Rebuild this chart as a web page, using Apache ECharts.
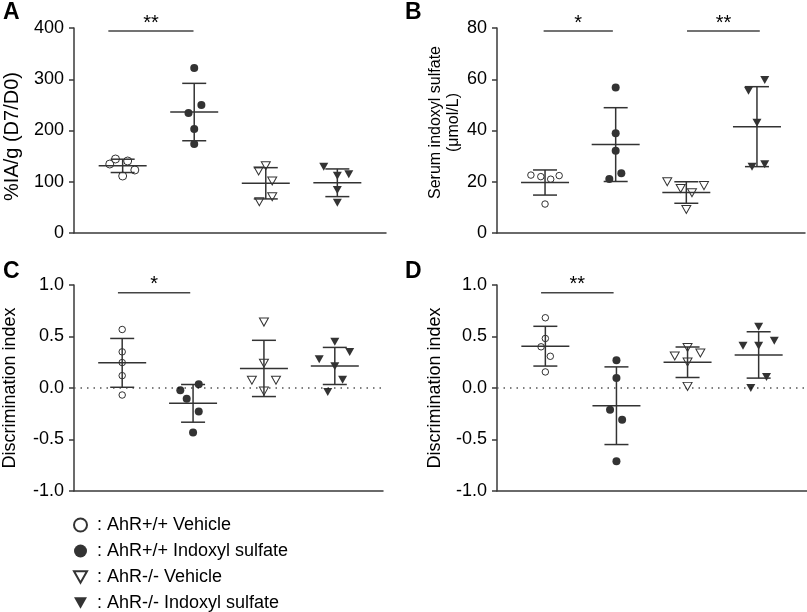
<!DOCTYPE html>
<html>
<head>
<meta charset="utf-8">
<script src="https://cdn.jsdelivr.net/npm/echarts@6/dist/echarts.min.js"></script>
<style>html,body{margin:0;padding:0;background:#fff}#c{width:807px;height:612px}</style>
</head>
<body>
<div id="c"></div>
<script>
// ---------- DATA ----------
const groupNames = ['AhR+/+ Vehicle', 'AhR+/+ Indoxyl sulfate', 'AhR-/- Vehicle', 'AhR-/- Indoxyl sulfate'];

// Panel A: %IA/g (D7/D0)
const iaWtVehicle = [134.6, 144.4, 140.5, 111.2, 122.9];
const iaWtIS      = [322, 249.8, 234, 203, 173.7];
const iaKoVehicle = [121, 131.4, 101.5, 61, 70.9];
const iaKoIS      = [129.4, 111.8, 114.5, 83.9, 59.1];
const iaMean = [131, 236, 97, 98];
const iaSD   = [13, 56, 30.5, 27];
const iaTicks = [0, 100, 200, 300, 400];

// Panel B: Serum indoxyl sulfate (umol/L)
const isWtVehicle = [22.6, 22, 21, 22.4, 11.3];
const isWtIS      = [56.8, 38.9, 32.1, 21.1, 23.3];
const isKoVehicle = [20, 17.4, 15.7, 18.5, 9.2];
const isKoIS      = [59.7, 55.5, 43, 25.9, 26.8];
const isMean = [19.7, 34.5, 15.8, 41.5];
const isSD   = [4.9, 14.4, 4.2, 15.6];
const isTicks = [0, 20, 40, 60, 80];

// Panel C: Discrimination index
const cWtVehicle = [0.568, 0.351, 0.247, 0.12, -0.068];
const cWtIS      = [0.036, -0.023, -0.104, -0.227, -0.432];
const cKoVehicle = [0.64, 0.24, 0.075, 0.075, -0.03];
const cKoIS      = [0.45, 0.35, 0.28, 0.21, 0.08, -0.04];
const cMean = [0.244, -0.149, 0.19, 0.214];
const cSD   = [0.237, 0.183, 0.273, 0.18];

// Panel D: Discrimination index
const dWtVehicle = [0.682, 0.481, 0.4, 0.308, 0.156];
const dWtIS      = [0.27, 0.097, -0.211, -0.308, -0.711];
const dKoVehicle = [0.393, 0.31, 0.34, 0.253, 0.016];
const dKoIS      = [0.594, 0.41, 0.41, 0.458, 0.107, 0.0];
const dMean = [0.406, -0.172, 0.25, 0.321];
const dSD   = [0.193, 0.377, 0.148, 0.225];
const diTicks = [-1.0, -0.5, 0.0, 0.5, 1.0];

// Horizontal scatter spread of points within each group (in group units)
const aSpread = [[-0.18,-0.1,0.07,0,0.17],[0,0.1,-0.08,0,0],[-0.1,0,0.09,-0.09,0.09],[-0.19,0,0.16,0,0]];
const bSpread = [[-0.2,-0.06,0.08,0.2,0],[0,0,0,-0.09,0.08],[-0.27,-0.08,0.08,0.25,0],[0.11,-0.12,0,-0.07,0.11]];
const cSpread = [[0,0,0,0,0],[0.08,-0.18,-0.09,0.08,0],[0,0,-0.17,0.17,0],[0,0.21,-0.22,0,0.11,-0.1]];
const dSpread = [[0,0,-0.06,0.07,0],[0,0,-0.09,0.08,0],[0,-0.18,0.18,0,0],[0,-0.22,0,0.22,0.11,-0.11]];

// Significance annotations: [fromX, toX, y, label]
const aSig = [[0.80, 1.99, 394, '**']];
const bSig = [[0.98, 1.96, 78.8, '*'], [3.01, 4.04, 78.8, '**']];
const cSig = [[0.94, 1.96, 0.925, '*']];
const dSig = [[0.94, 1.96, 0.925, '**']];

// ---------- CHART ----------
const FONT = '"Liberation Sans", Arial, Helvetica, sans-serif';
const AX = '#3a3a3a';
const TRI = 'path://M0,0L10,0L5,8.66Z';
const symbols = ['circle', 'circle', TRI, TRI];
const filled = [false, true, false, true];

const panels = [
  {vals:[iaWtVehicle, iaWtIS, iaKoVehicle, iaKoIS], mean:iaMean, sd:iaSD, spread:aSpread, sig:aSig,
   ticks:iaTicks, grid:{left:74, top:28, width:312, height:205}, name:'%IA/g (D7/D0)', nameGap:53, nameSize:20,
   namePad:[0, 12, 0, 0], openSize:8, zero:false, dec:0},
  {vals:[isWtVehicle, isWtIS, isKoVehicle, isKoIS], mean:isMean, sd:isSD, spread:bSpread, sig:bSig,
   ticks:isTicks, grid:{left:497, top:28, width:308, height:205}, name:'Serum indoxyl sulfate\n(μmol/L)', nameGap:27, nameSize:16,
   namePad:[0, 0, 0, 16], openSize:6.5, zero:false, dec:0},
  {vals:[cWtVehicle, cWtIS, cKoVehicle, cKoIS], mean:cMean, sd:cSD, spread:cSpread, sig:cSig,
   ticks:diTicks, grid:{left:73, top:285, width:310, height:206}, name:'Discrimination index', nameGap:55, nameSize:18,
   namePad:0, openSize:6.5, zero:true, dec:1},
  {vals:[dWtVehicle, dWtIS, dKoVehicle, dKoIS], mean:dMean, sd:dSD, spread:dSpread, sig:dSig,
   ticks:diTicks, grid:{left:497, top:285, width:310, height:206}, name:'Discrimination index', nameGap:53, nameSize:18,
   namePad:0, openSize:6.5, zero:true, dec:1}
];

const grids = [], xAxes = [], yAxes = [], series = [];

function errRender(params, api) {
  const x = api.value(0), m = api.value(1), s = api.value(2);
  const c = api.coord([x, m]), t = api.coord([x, m + s]), b = api.coord([x, m - s]);
  const st = {stroke: '#333', lineWidth: 1.5, fill: null};
  return {type: 'group', children: [
    {type: 'line', shape: {x1: c[0], y1: t[1], x2: c[0], y2: b[1]}, style: st},
    {type: 'line', shape: {x1: c[0] - 12, y1: t[1], x2: c[0] + 12, y2: t[1]}, style: st},
    {type: 'line', shape: {x1: c[0] - 12, y1: b[1], x2: c[0] + 12, y2: b[1]}, style: st},
    {type: 'line', shape: {x1: c[0] - 24, y1: c[1], x2: c[0] + 24, y2: c[1]}, style: st}
  ]};
}

panels.forEach((p, pi) => {
  grids.push(Object.assign({containLabel: false}, p.grid));
  xAxes.push({
    gridIndex: pi, type: 'value', min: 0.32, max: 4.68,
    axisLine: {show: true, onZero: false, lineStyle: {color: AX, width: 1.5}},
    axisTick: {show: false}, axisLabel: {show: false}, splitLine: {show: false}
  });
  const tmin = p.ticks[0], tmax = p.ticks[p.ticks.length - 1];
  yAxes.push({
    gridIndex: pi, type: 'value', min: tmin, max: tmax, interval: p.ticks[1] - p.ticks[0],
    axisLine: {show: true, onZero: false, lineStyle: {color: AX, width: 1.5}},
    axisTick: {show: true, length: 5, lineStyle: {color: AX, width: 1.5}},
    splitLine: {show: false},
    axisLabel: {color: '#000', fontSize: 18, fontFamily: FONT, margin: 10,
      formatter: v => v.toFixed(p.dec)},
    name: p.name, nameLocation: 'middle', nameGap: p.nameGap,
    nameTextStyle: {color: '#000', fontSize: p.nameSize, fontFamily: FONT, lineHeight: 18, padding: p.namePad}
  });
  p.vals.forEach((arr, gi) => {
    const s = {
      type: 'scatter', name: groupNames[gi], xAxisIndex: pi, yAxisIndex: pi,
      symbol: symbols[gi],
      symbolSize: gi < 2 ? (filled[gi] ? 8 : p.openSize) : [9, 8],
      itemStyle: filled[gi] ? {color: '#000', borderColor: '#000', borderWidth: 0}
                            : {color: '#fff', borderColor: '#000', borderWidth: 1},
      data: arr.map((v, i) => [gi + 1 + p.spread[gi][i], v]),
      z: 3, silent: true
    };
    if (p.zero && gi === 0) {
      s.markLine = {silent: true, symbol: 'none', label: {show: false},
        lineStyle: {color: '#555', width: 1.5, type: [1.5, 5]},
        data: [{yAxis: 0}], z: 1};
    }
    series.push(s);
  });
  series.push({
    type: 'custom', xAxisIndex: pi, yAxisIndex: pi, silent: true, z: 4,
    renderItem: errRender, encode: {x: 0, y: 1},
    data: p.mean.map((m, i) => [i + 1, m, p.sd[i]])
  });
  series.push({
    type: 'custom', xAxisIndex: pi, yAxisIndex: pi, silent: true, z: 4,
    encode: {x: [0, 1], y: 2},
    data: p.sig.map(s => [s[0], s[1], s[2]]),
    renderItem: (params, api) => {
      const a = api.coord([api.value(0), api.value(2)]);
      const b = api.coord([api.value(1), api.value(2)]);
      const lbl = p.sig[params.dataIndex][3];
      return {type: 'group', children: [
        {type: 'line', shape: {x1: a[0], y1: a[1], x2: b[0], y2: b[1]}, style: {stroke: '#444', lineWidth: 1.5}},
        {type: 'text', x: (a[0] + b[0]) / 2, y: a[1] + 2,
          style: {text: lbl, fill: '#000', font: '20px ' + FONT, align: 'center', verticalAlign: 'bottom'}}
      ]};
    }
  });
});

const letters = [['A', 3, 1], ['B', 405, 1], ['C', 3, 260], ['D', 405, 260]];

const chart = echarts.init(document.getElementById('c'), null, {renderer: 'canvas'});
chart.setOption({
  animation: false,
  backgroundColor: '#fff',
  grid: grids, xAxis: xAxes, yAxis: yAxes, series: series,
  legend: {
    orient: 'vertical', left: 73, top: 516, height: 110, padding: 0,
    itemWidth: 13, itemHeight: 13, itemGap: 8,
    selectedMode: false,
    textStyle: {color: '#000', fontSize: 18, fontFamily: FONT, lineHeight: 18},
    formatter: n => ' : ' + n,
    data: groupNames.map((n, i) => ({name: n, icon: symbols[i]}))
  },
  graphic: letters.map(l => ({type: 'text', left: l[1], top: l[2],
    style: {text: l[0], fill: '#000', font: 'bold 23px ' + FONT}}))
});
</script>
</body>
</html>
